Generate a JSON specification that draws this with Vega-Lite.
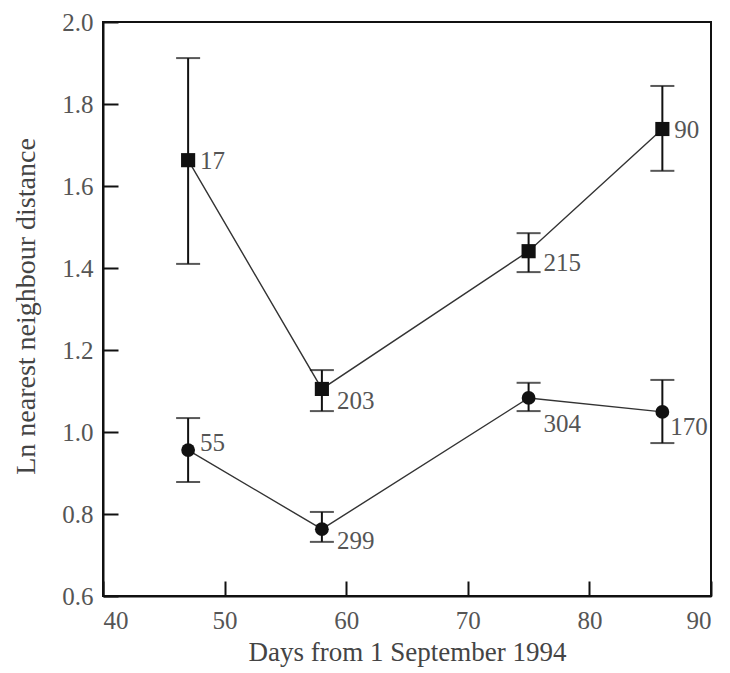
{
  "$schema": "https://vega.github.io/schema/vega-lite/v6.json",
  "autosize": {"type": "none"},
  "padding": {"left": 103, "top": 22, "right": 19, "bottom": 77},
  "width": 608,
  "height": 574,
  "background": "white",
  "config": {
    "view": {"stroke": "#111", "strokeWidth": 2},
    "font": "Liberation Serif",
    "axis": {
      "grid": false,
      "domainColor": "#111",
      "domainWidth": 2,
      "tickColor": "#111",
      "tickWidth": 2,
      "tickSize": -15,
      "labelFont": "Liberation Serif",
      "labelFontSize": 25,
      "labelColor": "#555",
      "titleFont": "Liberation Serif",
      "titleFontWeight": "normal",
      "titleColor": "#444"
    }
  },
  "data": {
    "values": [
      {"group": "squares", "day": 47, "mean": 1.663, "lo": 1.41, "hi": 1.912, "n": "17"},
      {"group": "squares", "day": 58, "mean": 1.105, "lo": 1.051, "hi": 1.151, "n": "203"},
      {"group": "squares", "day": 75, "mean": 1.441, "lo": 1.39, "hi": 1.485, "n": "215"},
      {"group": "squares", "day": 86, "mean": 1.739, "lo": 1.637, "hi": 1.844, "n": "90"},
      {"group": "circles", "day": 47, "mean": 0.956, "lo": 0.878, "hi": 1.034, "n": "55"},
      {"group": "circles", "day": 58, "mean": 0.763, "lo": 0.732, "hi": 0.805, "n": "299"},
      {"group": "circles", "day": 75, "mean": 1.083, "lo": 1.051, "hi": 1.12, "n": "304"},
      {"group": "circles", "day": 86, "mean": 1.049, "lo": 0.973, "hi": 1.127, "n": "170"}
    ]
  },
  "encoding": {
    "x": {
      "field": "day", "type": "quantitative",
      "scale": {"domain": [40, 90], "nice": false, "zero": false},
      "axis": {"values": [40, 50, 60, 70, 80, 90], "title": "Days from 1 September 1994", "titleFontSize": 27, "labelPadding": 27, "titleY": 64, "titleBaseline": "alphabetic"}
    },
    "y": {
      "field": "mean", "type": "quantitative",
      "scale": {"domain": [0.6, 2.0], "nice": false, "zero": false},
      "axis": {"values": [0.6, 0.8, 1.0, 1.2, 1.4, 1.6, 1.8, 2.0], "format": ".1f", "title": "Ln nearest neighbour distance", "titleFontSize": 28, "labelPadding": 25, "titleX": -77, "titleY": 284, "titleBaseline": "middle", "titleAlign": "center"}
    }
  },
  "layer": [
    {
      "mark": {"type": "line", "color": "#333", "strokeWidth": 1.4},
      "encoding": {"detail": {"field": "group"}}
    },
    {
      "mark": {"type": "rule", "color": "#111", "strokeWidth": 2},
      "encoding": {"y": {"field": "lo", "type": "quantitative"}, "y2": {"field": "hi"}}
    },
    {
      "mark": {"type": "tick", "orient": "horizontal", "color": "#111", "size": 24, "thickness": 2},
      "encoding": {"y": {"field": "lo", "type": "quantitative"}}
    },
    {
      "mark": {"type": "tick", "orient": "horizontal", "color": "#111", "size": 24, "thickness": 2},
      "encoding": {"y": {"field": "hi", "type": "quantitative"}}
    },
    {
      "transform": [{"filter": "datum.group === 'squares'"}],
      "mark": {"type": "point", "shape": "square", "filled": true, "color": "#111", "size": 200, "opacity": 1}
    },
    {
      "transform": [{"filter": "datum.group === 'circles'"}],
      "mark": {"type": "point", "shape": "circle", "filled": true, "color": "#111", "size": 190, "opacity": 1}
    },
    {
      "transform": [{"filter": "datum.n === '17' || datum.n === '90'"}],
      "mark": {"type": "text", "align": "left", "baseline": "middle", "dx": 12, "dy": 1, "fontSize": 25, "color": "#555"},
      "encoding": {"text": {"field": "n"}}
    },
    {
      "transform": [{"filter": "datum.n === '55'"}],
      "mark": {"type": "text", "align": "left", "baseline": "middle", "dx": 12, "dy": -7, "fontSize": 25, "color": "#555"},
      "encoding": {"text": {"field": "n"}}
    },
    {
      "transform": [{"filter": "datum.n === '203' || datum.n === '299' || datum.n === '215'"}],
      "mark": {"type": "text", "align": "left", "baseline": "middle", "dx": 15, "dy": 12, "fontSize": 25, "color": "#555"},
      "encoding": {"text": {"field": "n"}}
    },
    {
      "transform": [{"filter": "datum.n === '304'"}],
      "mark": {"type": "text", "align": "left", "baseline": "middle", "dx": 15, "dy": 26, "fontSize": 25, "color": "#555"},
      "encoding": {"text": {"field": "n"}}
    },
    {
      "transform": [{"filter": "datum.n === '170'"}],
      "mark": {"type": "text", "align": "left", "baseline": "middle", "dx": 8, "dy": 15, "fontSize": 25, "color": "#555"},
      "encoding": {"text": {"field": "n"}}
    }
  ]
}
